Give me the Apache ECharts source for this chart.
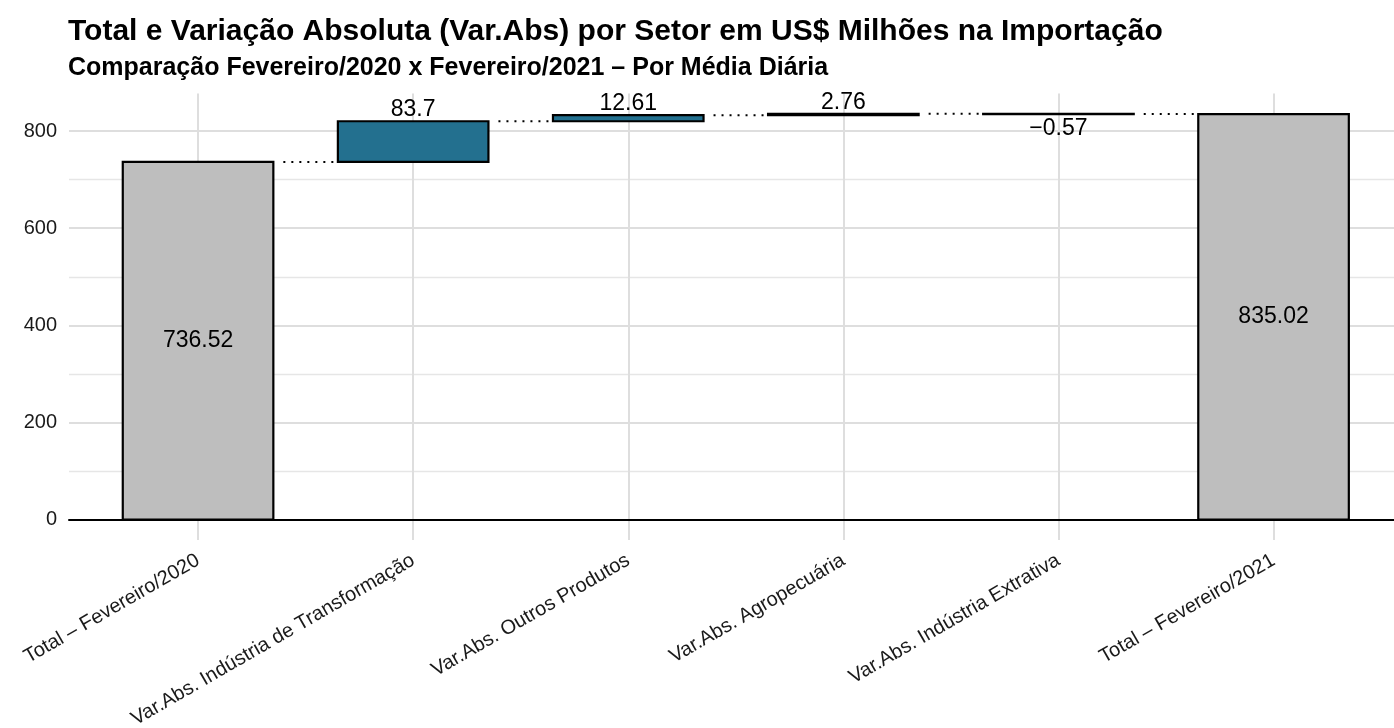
<!DOCTYPE html>
<html>
<head>
<meta charset="utf-8">
<script src="https://cdn.jsdelivr.net/npm/echarts@6.0.0/dist/echarts.min.js"></script>
<style>
  html, body { margin: 0; padding: 0; background: #fff; }
  #chart { width: 1394px; height: 728px; }
</style>
</head>
<body>
<div id="chart"></div>
<script>
// dados
const categorias = [
  'Total – Fevereiro/2020',
  'Var.Abs. Indústria de Transformação',
  'Var.Abs. Outros Produtos',
  'Var.Abs. Agropecuária',
  'Var.Abs. Indústria Extrativa',
  'Total – Fevereiro/2021'
];
const valores = [736.52, 83.7, 12.61, 2.76, -0.57, 835.02];
const ehTotal = [true, false, false, false, false, true];
const yTicks = [0, 200, 400, 600, 800];
const yMinor = [100, 300, 500, 700];

const fonte = "'Liberation Sans', Arial, Helvetica, sans-serif";
const corTotal = '#BEBEBE';
const corVar = '#23708F';

// início e fim de cada barra da cascata
const barras = [];
let acumulado = 0;
valores.forEach((v, i) => {
  const ini = ehTotal[i] ? 0 : acumulado;
  const fim = ehTotal[i] ? v : acumulado + v;
  acumulado = fim;
  barras.push([i, ini, fim, v]);
});
const topo = Math.max(...barras.map(b => Math.max(b[1], b[2])));
const folga = topo * 0.05;

function rotulo(v) {
  return String(v).replace('-', '\u2212');
}

function renderItem(params, api) {
  const i = api.value(0);
  const ini = api.value(1);
  const fim = api.value(2);
  const v = api.value(3);
  const larg = 0.7;
  const p1 = api.coord([i - larg / 2, Math.max(ini, fim)]);
  const p2 = api.coord([i + larg / 2, Math.min(ini, fim)]);
  const filhos = [{
    type: 'rect',
    shape: { x: p1[0], y: p1[1], width: p2[0] - p1[0], height: p2[1] - p1[1] },
    style: { fill: ehTotal[i] ? corTotal : corVar, stroke: '#000', lineWidth: 2.2 }
  }];
  // linha pontilhada até a próxima barra
  if (i < categorias.length - 1) {
    const a = api.coord([i + larg / 2, fim]);
    const b = api.coord([i + 1 - larg / 2, fim]);
    filhos.push({
      type: 'line',
      shape: { x1: a[0] + 10, y1: a[1], x2: b[0] - 3, y2: b[1] },
      style: { stroke: '#000', lineWidth: 2, lineDash: [2, 6] }
    });
  }
  const cx = api.coord([i, 0])[0];
  let ty, va;
  if (ehTotal[i]) {
    ty = api.coord([i, fim / 2])[1]; va = 'middle';
  } else if (v >= 0) {
    ty = api.coord([i, fim])[1]; va = 'bottom';
  } else {
    ty = api.coord([i, fim])[1] + 3; va = 'top';
  }
  filhos.push({
    type: 'text',
    x: cx, y: ty,
    style: {
      text: rotulo(v), align: 'center', verticalAlign: va,
      fontFamily: fonte, fontSize: 23, fill: '#000'
    }
  });
  return { type: 'group', children: filhos };
}

const chart = echarts.init(document.getElementById('chart'));
chart.setOption({
  backgroundColor: '#fff',
  animation: false,
  title: [
    {
      text: 'Total e Variação Absoluta (Var.Abs) por Setor em US$ Milhões na Importação',
      left: 68, top: 17, padding: 0,
      textStyle: { fontFamily: fonte, fontSize: 30, fontWeight: 'bold', color: '#000' }
    },
    {
      text: 'Comparação Fevereiro/2020 x Fevereiro/2021 – Por Média Diária',
      left: 68, top: 56, padding: 0,
      textStyle: { fontFamily: fonte, fontSize: 25, fontWeight: 'bold', color: '#000' }
    }
  ],
  grid: { left: 69, right: 0, top: 93.5, bottom: 188, outerBoundsMode: 'none' },
  xAxis: {
    type: 'value',
    min: -0.6,
    max: 5.56,
    axisLine: { onZero: true, lineStyle: { color: '#000', width: 2 } },
    axisTick: { show: false, customValues: categorias.map((c, i) => i) },
    axisLabel: {
      customValues: categorias.map((c, i) => i),
      formatter: v => categorias[Math.round(v)],
      rotate: 30,
      margin: 19,
      fontFamily: fonte,
      fontSize: 20,
      color: '#1a1a1a'
    },
    splitLine: { show: true, lineStyle: { color: '#DEDEDE', width: 2 } }
  },
  yAxis: [
    {
      type: 'value',
      min: -folga,
      max: topo + folga,
      axisLine: { show: false },
      axisTick: { show: false, customValues: yTicks },
      axisLabel: {
        customValues: yTicks,
        margin: 12,
        fontFamily: fonte,
        fontSize: 20,
        color: '#1a1a1a'
      },
      splitLine: { show: true, lineStyle: { color: '#DEDEDE', width: 2 } }
    },
    {
      type: 'value',
      min: -folga,
      max: topo + folga,
      axisLine: { show: false },
      axisTick: { show: false, customValues: yMinor },
      axisLabel: { show: false, customValues: yMinor },
      splitLine: { show: true, lineStyle: { color: '#E6E6E6', width: 1.4 } }
    }
  ],
  series: [{
    type: 'custom',
    renderItem: renderItem,
    data: barras,
    encode: { x: 0, y: [1, 2] },
    clip: false,
    z: 3
  }]
});
window.addEventListener('resize', () => chart.resize());
</script>
</body>
</html>
